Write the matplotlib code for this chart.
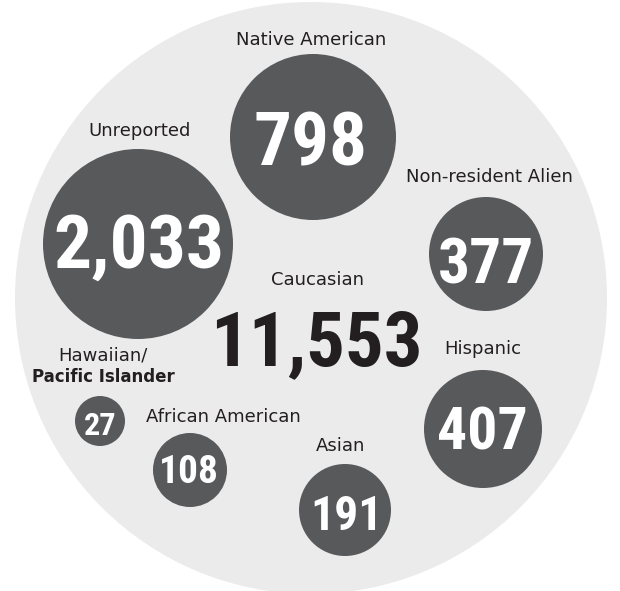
import matplotlib
matplotlib.use("Agg")
import matplotlib.pyplot as plt
from matplotlib.patches import Circle
from matplotlib import font_manager as fm

# data
groups = ["Caucasian", "Unreported", "Native American", "Hispanic",
          "Non-resident Alien", "Asian", "African American",
          "Hawaiian/\nPacific Islander"]
counts = [11553, 2033, 798, 407, 377, 191, 108, 27]

# layout (pixel coords of the infographic), one entry per group
bubble_x = [None, 138, 313, 483, 486, 345, 190, 100]
bubble_y = [None, 244, 137, 429, 254, 510, 470, 421]
bubble_r = [None, 95, 83, 59, 57, 46, 37, 25]
num_size = [64, 63, 63, 50, 53, 40, 33, 27]
num_x = [316, 139, 311, 482, 486, 346, 189, 100]
num_base = [367, 270, 168, 452, 285, 532, 485, 437]
lab_x = [318, 140, 311, 483, 489, 341, 223, 103]
lab_y = [280, 131, 40, 349, 177, 446, 417, 366]

names = {f.name for f in fm.fontManager.ttflist}
num_font = "DejaVu Sans"
for cand in ["Roboto Condensed", "Liberation Sans Narrow", "DejaVu Sans Condensed",
             "Open Sans Condensed", "Noto Sans Condensed"]:
    if cand in names:
        num_font = cand
        break
lab_font = "DejaVu Sans"
shrink = 0.86  # the original face is narrower than anything installed

bg = "#ebebec"
dark = "#58595b"
ink = "#231f20"

fig = plt.figure(figsize=(6.2, 5.91), dpi=100)
ax = fig.add_axes([0, 0, 1, 1])
ax.set_xlim(0, 620)
ax.set_ylim(591, 0)
ax.set_aspect("equal")
ax.axis("off")

ax.add_patch(Circle((311, 298), 296, color=bg, lw=0))

for i, (g, c) in enumerate(zip(groups, counts)):
    if bubble_r[i] is not None:
        ax.add_patch(Circle((bubble_x[i], bubble_y[i]), bubble_r[i], color=dark, lw=0))
        col = "white"
    else:
        col = ink
    ax.text(num_x[i], num_base[i] - 2, f"{c:,}", ha="center", va="baseline",
            fontsize=num_size[i] * shrink, fontweight="bold", fontstretch="condensed",
            family=num_font, color=col)
    if "\n" in g:
        top, bot = g.split("\n")
        ax.text(lab_x[i], 356, top, ha="center", va="center", fontsize=13,
                family=lab_font, color=ink)
        ax.text(lab_x[i], 377, bot, ha="center", va="center", fontsize=12,
                family=lab_font, fontweight="bold", color=ink)
    else:
        ax.text(lab_x[i], lab_y[i], g, ha="center", va="center", fontsize=13,
                family=lab_font, color=ink)

fig.savefig("out.png", dpi=100, facecolor="white")
